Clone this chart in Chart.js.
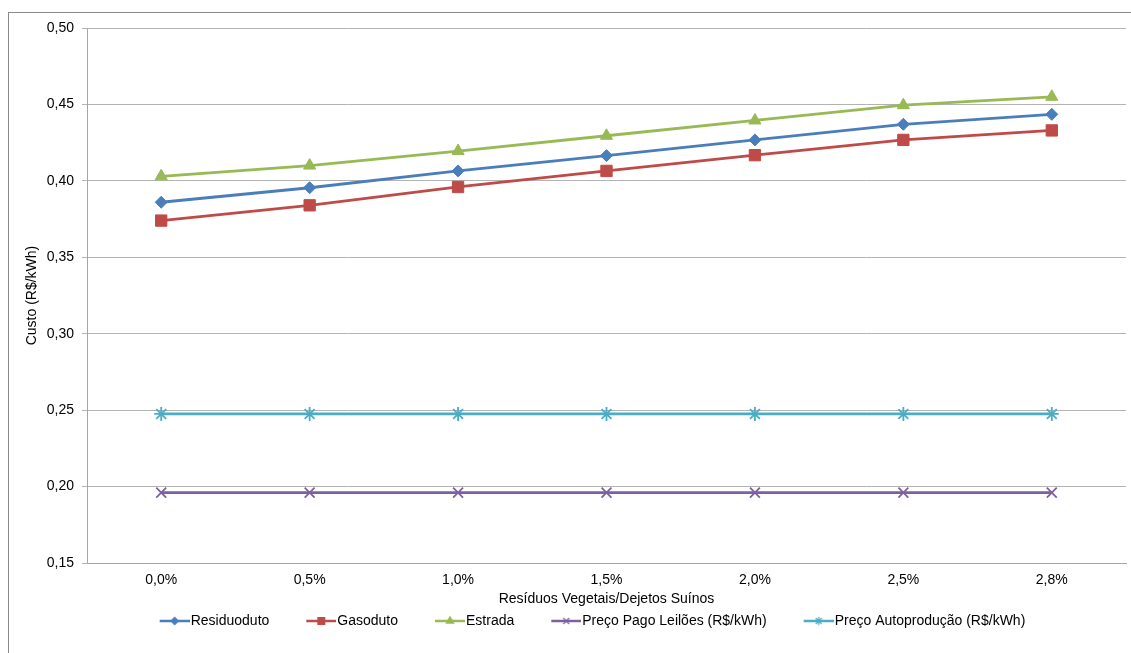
<!DOCTYPE html>
<html>
<head>
<meta charset="utf-8">
<script src="https://cdn.jsdelivr.net/npm/chart.js@4/dist/chart.umd.min.js"></script>
<style>
  html, body { margin: 0; padding: 0; background: #fff; }
  #wrap { position: relative; width: 1131px; height: 653px; overflow: hidden; }
  #frame { position: absolute; left: 8px; top: 12px; width: 1200px; height: 700px;
           border-left: 1.5px solid #8a8a8a; border-top: 1.5px solid #8a8a8a; }
  #chart { position: absolute; left: 0; top: 0; }
</style>
</head>
<body>
<div id="wrap">
  <div id="frame"></div>
  <canvas id="chart" width="1135" height="653"></canvas>
</div>
<script>
const categories = ["0,0%", "0,5%", "1,0%", "1,5%", "2,0%", "2,5%", "2,8%"];

const residuoduto = [0.386, 0.3955, 0.4065, 0.4165, 0.4268, 0.437, 0.4435];
const gasoduto = [0.374, 0.384, 0.396, 0.4065, 0.4168, 0.4268, 0.433];
const estrada = [0.403, 0.410, 0.4195, 0.4295, 0.4395, 0.4495, 0.455];
const precoLeiloes = [0.196, 0.196, 0.196, 0.196, 0.196, 0.196, 0.196];
const precoAutoproducao = [0.2475, 0.2475, 0.2475, 0.2475, 0.2475, 0.2475, 0.2475];

const seriesNames = [
  "Residuoduto",
  "Gasoduto",
  "Estrada",
  "Preço Pago Leilões (R$/kWh)",
  "Preço Autoprodução (R$/kWh)"
];
const seriesData = [residuoduto, gasoduto, estrada, precoLeiloes, precoAutoproducao];
const colors = ["#4A7EBB", "#BE4B48", "#98B954", "#7D60A0", "#4BACC6"];
const markers = ["rectRot", "rect", "triangle", "crossRot", "star"];
const markerSize = [6, 8, 7, 7, 7];

const FONT = "'Liberation Sans', Arial, sans-serif";

// legend picture: blank gap on the left, then a short line with the marker
function legendIcon(i) {
  const c = document.createElement("canvas");
  c.width = 63;
  c.height = 14;
  const ctx = c.getContext("2d");
  ctx.strokeStyle = colors[i];
  ctx.fillStyle = colors[i];
  ctx.lineWidth = 2.5;
  ctx.beginPath();
  ctx.moveTo(33, 7);
  ctx.lineTo(63, 7);
  ctx.stroke();
  ctx.lineWidth = 1.2;
  Chart.helpers.drawPoint(ctx, {
    pointStyle: markers[i],
    rotation: 0,
    radius: markerSize[i] * 0.6,
    borderWidth: 1.2
  }, 48, 7);
  return c;
}

// move the legend row a little to the right, like the original
const legendShift = {
  id: "legendShift",
  beforeDraw(chart) {
    chart.legend.left += 1.5;
    chart.legend.right += 1.5;
  }
};

const datasets = seriesNames.map((name, i) => ({
  label: name,
  data: seriesData[i],
  borderColor: colors[i],
  backgroundColor: colors[i],
  borderWidth: 2.8,
  pointStyle: markers[i],
  pointRadius: markerSize[i],
  pointHoverRadius: markerSize[i],
  pointBorderWidth: (i >= 3) ? 1.8 : 1,
  tension: 0
}));

new Chart(document.getElementById("chart"), {
  type: "line",
  data: { labels: categories, datasets },
  plugins: [legendShift],
  options: {
    responsive: false,
    animation: false,
    layout: { padding: { left: 20, top: 28, right: 0, bottom: 15 } },
    plugins: {
      tooltip: { enabled: false },
      legend: {
        position: "bottom",
        labels: {
          font: { family: FONT, size: 14 },
          color: "#000",
          padding: 10,
          usePointStyle: true,
          pointStyleWidth: 51,
          generateLabels(chart) {
            return chart.data.datasets.map((ds, i) => ({
              text: ds.label,
              pointStyle: legendIcon(i),
              fillStyle: colors[i],
              strokeStyle: colors[i],
              lineWidth: 0,
              hidden: false,
              datasetIndex: i
            }));
          }
        }
      }
    },
    scales: {
      x: {
        offset: true,
        grid: { display: false, offset: true, drawTicks: false },
        border: { display: true, color: "#a6a6a6" },
        ticks: { font: { family: FONT, size: 14 }, color: "#000", padding: 9 },
        title: {
          display: true,
          text: "Resíduos Vegetais/Dejetos Suínos",
          font: { family: FONT, size: 14 },
          color: "#000",
          padding: { top: 0, bottom: -4 }
        },
        afterFit(scale) { scale.height = 41; }
      },
      y: {
        min: 0.15,
        max: 0.50,
        grid: { color: "#b3b3b3", lineWidth: 1, tickLength: 5 },
        border: { display: true, color: "#a6a6a6" },
        ticks: {
          stepSize: 0.05,
          font: { family: FONT, size: 14 },
          color: "#000",
          padding: 8,
          callback: v => v.toFixed(2).replace(".", ",")
        },
        title: {
          display: true,
          text: "Custo (R$/kWh)",
          font: { family: FONT, size: 14 },
          color: "#000",
          padding: { top: 4, bottom: 4 }
        },
        afterFit(scale) { scale.width = 67; }
      }
    }
  }
});
</script>
</body>
</html>
